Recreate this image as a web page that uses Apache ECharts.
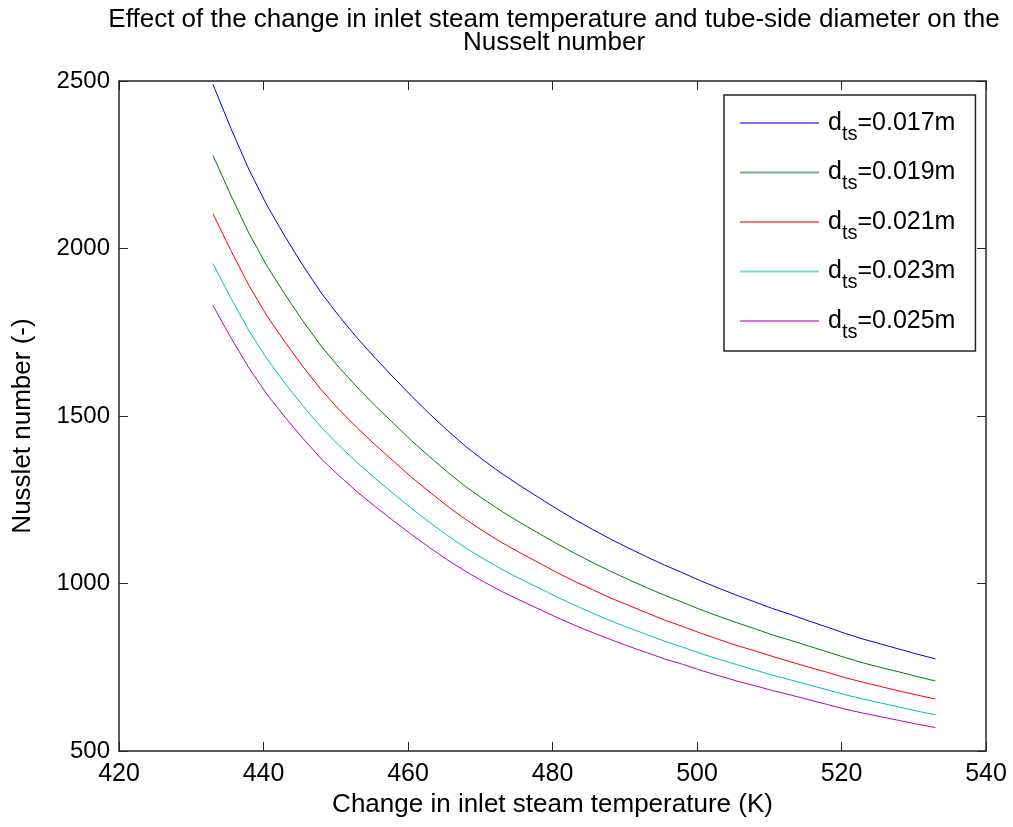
<!DOCTYPE html>
<html>
<head>
<meta charset="utf-8">
<script src="https://cdn.jsdelivr.net/npm/echarts@6/dist/echarts.min.js"></script>
<style>
html,body{margin:0;padding:0;background:#fff;}
#chart{width:1013px;height:827px;}
</style>
</head>
<body>
<div id="chart"></div>
<script>
// Inlet steam temperature (K)
const temps = [433,435.5,438,440.5,443,445.5,448,450.5,453,455.5,458,460.5,463,465.5,468,470.5,473,475.5,478,480.5,483,485.5,488,490.5,493,495.5,498,500.5,503,505.5,508,510.5,513,515.5,518,520.5,523,525.5,528,530.5,533];
const diameters = ['0.017','0.019','0.021','0.023','0.025'];
const nu017 = [2490,2358,2235,2128,2035,1948,1867,1797,1732,1672,1615,1559,1506,1456,1409,1367,1328,1292,1258,1224,1192,1162,1133,1106,1080,1055,1032,1008,986,965,945,925,907,888,870,851,834,819,804,789,775];
const nu019 = [2278,2158,2045,1947,1862,1782,1708,1644,1585,1530,1478,1426,1378,1332,1289,1251,1215,1182,1151,1120,1091,1063,1037,1012,988,965,944,922,902,883,865,846,830,813,796,779,763,749,736,722,709];
const nu021 = [2104,1993,1889,1798,1720,1646,1578,1518,1464,1413,1365,1317,1273,1230,1191,1155,1122,1092,1063,1034,1007,982,957,935,913,891,872,852,833,815,799,782,766,750,735,719,705,692,679,667,655];
const nu023 = [1955,1851,1754,1670,1597,1529,1466,1411,1360,1313,1268,1224,1182,1143,1106,1073,1042,1014,988,961,936,912,889,868,848,828,810,791,774,758,742,726,712,697,683,668,655,643,631,619,608];
const nu025 = [1830,1733,1643,1564,1496,1432,1372,1321,1273,1229,1187,1146,1107,1070,1036,1005,976,950,925,900,876,854,833,813,794,775,759,741,725,709,695,680,667,653,639,625,613,602,591,580,570];
const xTicks = [420,440,460,480,500,520,540];
const yTicks = [500,1000,1500,2000,2500];

const values = [nu017, nu019, nu021, nu023, nu025];
const colors = ['#0000ff','#008000','#ff0000','#00bfbf','#bf00bf'];
const FONT = '"Liberation Sans", Arial, sans-serif';

const series = values.map((v, i) => ({
  name: 'dts=' + diameters[i] + 'm',
  type: 'line',
  data: temps.map((t, k) => [t, v[k]]),
  showSymbol: false,
  symbol: 'none',
  lineStyle: {width: 1, color: colors[i]},
  itemStyle: {color: colors[i]},
  animation: false,
  xAxisIndex: 0, yAxisIndex: 0
}));

const axisLineStyle = {show: true, lineStyle: {color: '#262626', width: 1.5}};
const tickStyle = {show: true, inside: true, length: 9, lineStyle: {color: '#262626', width: 1}};

const chart = echarts.init(document.getElementById('chart'), null, {renderer: 'canvas'});
chart.setOption({
  backgroundColor: '#ffffff',
  animation: false,
  title: {
    text: 'Effect of the change in inlet steam temperature and tube-side diameter on the\nNusselt number',
    left: 549, top: 3, textAlign: 'center',
    textStyle: {fontFamily: FONT, fontSize: 26, fontWeight: 'normal', color: '#000', lineHeight: 23}
  },
  grid: {left: 119, right: 27, top: 81, bottom: 76, containLabel: false, show: false},
  legend: {
    orient: 'vertical', left: 724, top: 95,
    padding: [7, 20, 9, 16],
    itemGap: 7.5, itemWidth: 79, itemHeight: 2,
    icon: 'rect',
    itemStyle: {opacity: 0.55},
    backgroundColor: '#fff', borderColor: '#262626', borderWidth: 1.5,
    data: series.map(s => s.name),
    formatter: name => {
      const rest = name.slice(3);
      return '{d|d}{b|ts}{a|' + rest + '}';
    },
    textStyle: {
      fontFamily: FONT, color: '#000',
      rich: {
        d: {fontFamily: FONT, fontSize: 25, color: '#000', lineHeight: 28, verticalAlign: 'middle', padding: [0, 0, 0, 4]},
        a: {fontFamily: FONT, fontSize: 25, color: '#000', lineHeight: 28, verticalAlign: 'middle'},
        b: {fontFamily: FONT, fontSize: 20, color: '#000', lineHeight: 20, verticalAlign: 'middle', padding: [22, 0, 0, 0]}
      }
    }
  },
  xAxis: [{
    type: 'value', min: 420, max: 540, interval: 20, position: 'bottom',
    name: 'Change in inlet steam temperature (K)', nameLocation: 'middle', nameGap: 41,
    nameTextStyle: {fontFamily: FONT, fontSize: 26, color: '#000'},
    axisLine: axisLineStyle, axisTick: tickStyle, splitLine: {show: false},
    axisLabel: {fontFamily: FONT, fontSize: 25, color: '#000', margin: 11}
  }, {
    type: 'value', min: 420, max: 540, interval: 20, position: 'top',
    axisLine: axisLineStyle, axisTick: tickStyle, splitLine: {show: false},
    axisLabel: {show: false}
  }],
  yAxis: [{
    type: 'value', min: 500, max: 2500, interval: 500, position: 'left',
    name: 'Nusslet number (-)', nameLocation: 'middle', nameGap: 83, nameRotate: 90,
    nameTextStyle: {fontFamily: FONT, fontSize: 26, color: '#000', padding: [0, 20, 0, 0]},
    axisLine: axisLineStyle, axisTick: tickStyle, splitLine: {show: false},
    axisLabel: {fontFamily: FONT, fontSize: 24, color: '#000', margin: 9, formatter: v => String(v)}
  }, {
    type: 'value', min: 500, max: 2500, interval: 500, position: 'right',
    axisLine: axisLineStyle, axisTick: tickStyle, splitLine: {show: false},
    axisLabel: {show: false}
  }],
  series: series
});
</script>
</body>
</html>
